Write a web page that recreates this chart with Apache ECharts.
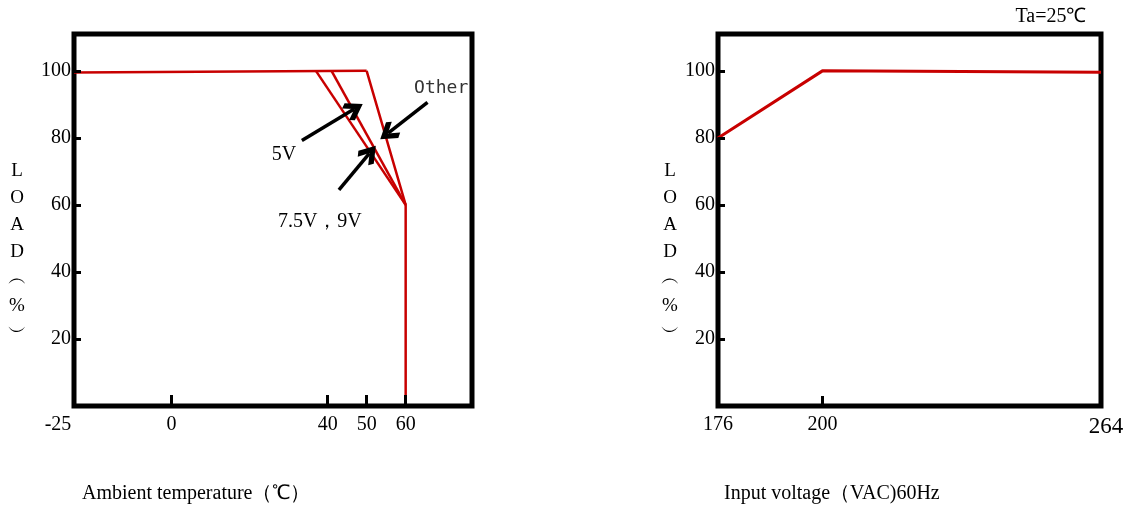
<!DOCTYPE html>
<html>
<head>
<meta charset="utf-8">
<title>Derating curves</title>
<script src="https://cdn.jsdelivr.net/npm/echarts@6/dist/echarts.min.js"></script>
<style>
    html, body { margin: 0; padding: 0; background: #fff; }
    #derating_chart { width: 1127px; height: 506px; }
</style>
</head>
<body>
<div id="derating_chart"></div>
<script>
// Derating data (temperature in C, load in %)
var tempBase = [[-25, 99.5], [50, 100]];
var temp5V = [[37, 100], [60, 60]];
var temp75V = [[41, 100], [60, 60]];
var tempOther = [[50, 100], [60, 60], [60, 0]];

// Static characteristics (input VAC, load in %)
var voltLoad = [[176, 80], [200, 100], [264, 99.6]];

// Tick labels
var tempLabels = [-25, 0, 40, 50, 60];
var tempTicks = [0, 40, 50, 60];
var voltLabels = [176, 200, 264];
var voltTicks = [200];
var loadTicks = [20, 40, 60, 80, 100];

// Annotation arrows, [tail, head] in data units
var noteArrows = [
    [[33.4, 79.2], [46.8, 88.6]],
    [[42.9, 64.5], [50.7, 75.4]],
    [[65.6, 90.6], [55.5, 81.4]]
];
var noteNames = ['5V', '7.5V，9V', 'Other'];
var noteCoords = [[28.8, 74.9], [38.0, 54.9], [69.1, 94.9]];

var DeratingChart = function() {

    var _deratingChart = function() {

        // Define element
        var chart_element = document.getElementById('derating_chart');
        if (!chart_element) return;

        var chart = echarts.init(chart_element);

        var serif = '"Liberation Serif", "Times New Roman", serif';
        var red = '#c80000';

        // Shared axis settings
        var tickStyle = { color: '#000', width: 3 };
        var labelStyle = { fontFamily: serif, fontSize: 20, color: '#000' };

        var loadAxis = function(index) {
            return {
                type: 'value',
                gridIndex: index,
                min: 0,
                max: 111,
                z: 4,
                axisLine: { show: false, onZero: false },
                splitLine: { show: false },
                axisTick: { show: true, inside: true, length: 7, lineStyle: tickStyle, customValues: loadTicks },
                axisLabel: Object.assign({ margin: 3, customValues: loadTicks }, labelStyle)
            };
        };

        var lineSeries = function(name, data, axis, width) {
            return {
                name: name,
                type: 'line',
                xAxisIndex: axis,
                yAxisIndex: axis,
                data: data,
                symbol: 'none',
                lineStyle: { color: red, width: width, cap: 'butt' }
            };
        };

        // Arrow and label annotations
        var arrowData = noteArrows.map(function(a) {
            return [{ coord: a[0] }, { coord: a[1] }];
        });
        var noteData = noteNames.map(function(n, i) {
            var mono = n === 'Other';
            return {
                name: n,
                coord: noteCoords[i],
                symbolSize: 1,
                itemStyle: { color: 'transparent' },
                label: {
                    show: true,
                    position: 'inside',
                    formatter: n,
                    color: mono ? '#333' : '#000',
                    fontFamily: mono ? '"DejaVu Sans Mono", monospace' : serif,
                    fontSize: mono ? 18 : 20
                }
            };
        });

        var baseSeries = lineSeries('Base', tempBase, 0, 2.5);
        baseSeries.markLine = {
            silent: true,
            // open arrow head at the end only
            symbol: ['none', 'path://M10,0L20,10L16.8,13.2L10,6.4L3.2,13.2L0,10Z'],
            symbolSize: [20, 20],
            label: { show: false },
            lineStyle: { color: '#000', width: 3.5, type: 'solid' },
            data: arrowData
        };
        baseSeries.markPoint = {
            silent: true,
            symbol: 'circle',
            data: noteData
        };

        var options = {
            animation: false,
            backgroundColor: '#fff',
            grid: [
                { left: 74, top: 34, width: 398, height: 372, show: true, borderColor: '#000', borderWidth: 5, z: 3 },
                { left: 718, top: 34, width: 383, height: 372, show: true, borderColor: '#000', borderWidth: 5, z: 3 }
            ],
            xAxis: [
                {
                    type: 'value',
                    gridIndex: 0,
                    min: -25,
                    max: 77,
                    z: 4,
                    axisLine: { show: false, onZero: false },
                    splitLine: { show: false },
                    axisTick: { show: true, inside: true, length: 11, lineStyle: tickStyle, customValues: tempTicks },
                    axisLabel: Object.assign({
                        margin: 9,
                        customValues: tempLabels,
                        formatter: function(v) { return v === -25 ? '{neg|-25}' : String(v); },
                        rich: { neg: { fontFamily: serif, fontSize: 20, color: '#000', padding: [0, 32, 0, 0] } }
                    }, labelStyle)
                },
                {
                    type: 'value',
                    gridIndex: 1,
                    min: 176,
                    max: 264,
                    z: 4,
                    axisLine: { show: false, onZero: false },
                    splitLine: { show: false },
                    axisTick: { show: true, inside: true, length: 10, lineStyle: tickStyle, customValues: voltTicks },
                    axisLabel: Object.assign({
                        margin: 9,
                        customValues: voltLabels,
                        formatter: function(v) { return v === 264 ? '{big|264}' : String(v); },
                        rich: { big: { fontFamily: serif, fontSize: 23, color: '#000', padding: [0, 0, 0, 10] } }
                    }, labelStyle)
                }
            ],
            yAxis: [loadAxis(0), loadAxis(1)],
            graphic: [
                { type: 'text', x: 17, y: 252, style: { text: 'L\nO\nA\nD\n︵\n%\n︶', font: '19px ' + serif, lineHeight: 27, align: 'center', verticalAlign: 'middle', fill: '#000' } },
                { type: 'text', x: 670, y: 252, style: { text: 'L\nO\nA\nD\n︵\n%\n︶', font: '19px ' + serif, lineHeight: 27, align: 'center', verticalAlign: 'middle', fill: '#000' } },
                { type: 'text', x: 82, y: 494, style: { text: 'Ambient temperature（℃）', font: '20px ' + serif, align: 'left', verticalAlign: 'middle', fill: '#000' } },
                { type: 'text', x: 724, y: 494, style: { text: 'Input voltage（VAC)60Hz', font: '20px ' + serif, align: 'left', verticalAlign: 'middle', fill: '#000' } },
                { type: 'text', x: 1051, y: 17, style: { text: 'Ta=25℃', font: '20px ' + serif, align: 'center', verticalAlign: 'middle', fill: '#000' } }
            ],
            series: [
                baseSeries,
                lineSeries('5V', temp5V, 0, 2.5),
                lineSeries('7.5V, 9V', temp75V, 0, 2.5),
                lineSeries('Other', tempOther, 0, 2.5),
                lineSeries('Input voltage', voltLoad, 1, 3)
            ]
        };

        chart.setOption(options);

        window.onresize = function() {
            chart.resize();
        };
    };

    return {
        init: function() {
            _deratingChart();
        }
    };
}();

document.addEventListener('DOMContentLoaded', function() {
    DeratingChart.init();
});
</script>
</body>
</html>
